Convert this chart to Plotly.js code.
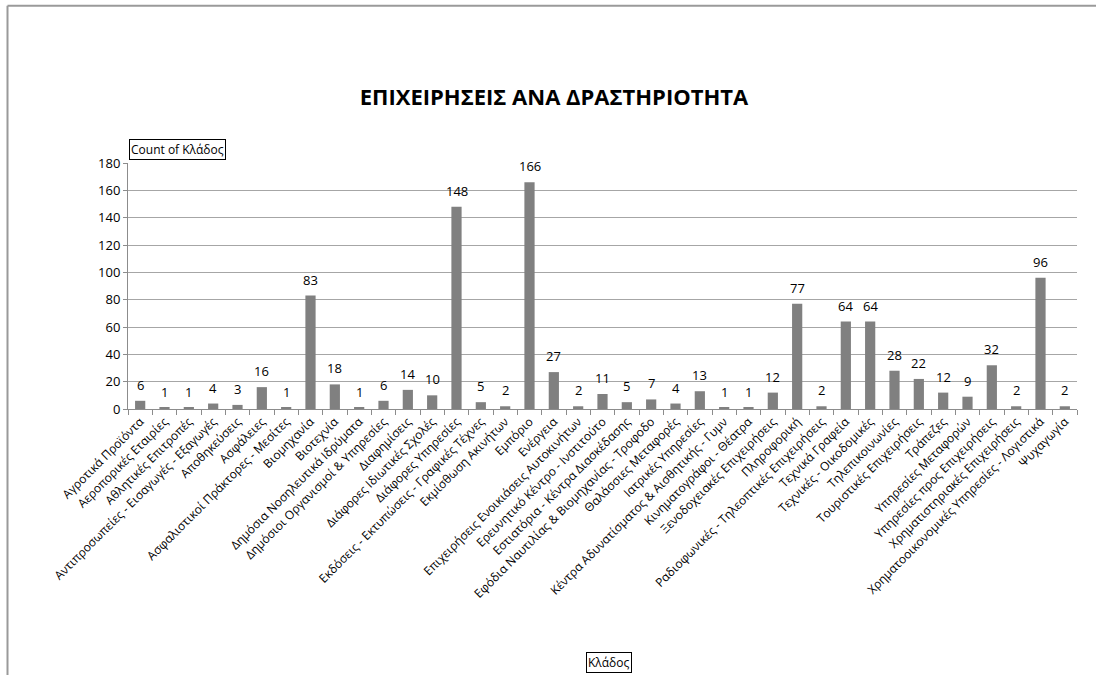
<!DOCTYPE html>
<html>
<head>
<meta charset="utf-8">
<script src="https://cdn.plot.ly/plotly-3.0.1.min.js"></script>
<style>
html,body{margin:0;padding:0;background:#fff;}
#chart{width:1096px;height:675px;}
</style>
</head>
<body>
<div id="chart"></div>
<script>
const categories = [
  "Αγροτικά Προϊόντα",
  "Αεροπορικές Εταιρίες",
  "Αθλητικές Επιτροπές",
  "Αντιπροσωπείες - Εισαγωγές - Εξαγωγές",
  "Αποθηκεύσεις",
  "Ασφάλειες",
  "Ασφαλιστικοί Πράκτορες - Μεσίτες",
  "Βιομηχανία",
  "Βιοτεχνία",
  "Δημόσια Νοσηλευτικά Ιδρύματα",
  "Δημόσιοι Οργανισμοί & Υπηρεσίες",
  "Διαφημίσεις",
  "Διάφορες Ιδιωτικές Σχολές",
  "Διάφορες Υπηρεσίες",
  "Εκδόσεις - Εκτυπώσεις - Γραφικές Τέχνες",
  "Εκμίσθωση Ακινήτων",
  "Εμπόριο",
  "Ενέργεια",
  "Επιχειρήσεις Ενοικιάσεις Αυτοκινήτων",
  "Ερευνητικό Κέντρο - Ινστιτούτο",
  "Εστιατόρια - Κέντρα Διασκέδασης",
  "Εφόδια Ναυτιλίας & Βιομηχανίας - Τροφοδο",
  "Θαλάσσιες Μεταφορές",
  "Ιατρικές Υπηρεσίες",
  "Κέντρα Αδυνατίσματος & Αισθητικής - Γυμν",
  "Κινηματογράφοι - Θέατρα",
  "Ξενοδοχειακές Επιχειρήσεις",
  "Πληροφορική",
  "Ραδιοφωνικές - Τηλεοπτικές Επιχειρήσεις",
  "Τεχνικά Γραφεία",
  "Τεχνικές - Οικοδομικές",
  "Τηλεπικοινωνίες",
  "Τουριστικές Επιχειρήσεις",
  "Τράπεζες",
  "Υπηρεσίες Μεταφορών",
  "Υπηρεσίες προς Επιχειρήσεις",
  "Χρηματιστηριακές Επιχειρήσεις",
  "Χρηματοοικονομικές Υπηρεσίες - Λογιστικά",
  "Ψυχαγωγία"
];
const counts = [6,1,1,4,3,16,1,83,18,1,6,14,10,148,5,2,166,27,2,11,5,7,4,13,1,1,12,77,2,64,64,28,22,12,9,32,2,96,2];
const yTicks = [0,20,40,60,80,100,120,140,160,180];

const FONT = "Open Sans, Noto Sans, sans-serif";
const trace = {
  type: "bar",
  x: categories,
  y: counts,
  hoverinfo: "x+y",
  marker: {color: "#808080"}
};

const L = 128, R = 1077, T = 163, B = 408.7;
const W = R - L, H = B - T;
const px = v => (v - L) / W;
const py = v => (B - v) / H;

const valueLabels = categories.map((c, i) => ({
  x: c, y: counts[i], xref: "x", yref: "y",
  text: String(counts[i]), showarrow: false,
  yanchor: "bottom", yshift: 5,
  font: {family: FONT, size: 13, color: "#000"}
}));

const layout = {
  width: 1096, height: 675,
  margin: {l: L, r: 1096 - R, t: T, b: 675 - B},
  paper_bgcolor: "#fff", plot_bgcolor: "#fff",
  showlegend: false,
  bargap: 0.58,
  title: {
    text: "ΕΠΙΧΕΙΡΗΣΕΙΣ ΑΝΑ ΔΡΑΣΤΗΡΙΟΤΗΤΑ",
    font: {family: FONT, size: 22, color: "#000", weight: "bold"},
    x: 554 / 1096, xref: "container", xanchor: "center",
    y: 1 - 97 / 675, yref: "container", yanchor: "middle"
  },
  xaxis: {
    type: "category",
    tickangle: -45,
    tickfont: {family: FONT, size: 12, color: "#000"},
    ticks: "outside", ticklen: 5, tickcolor: "#8c8c8c",
    tickson: "boundaries",
    showline: true, linecolor: "#8c8c8c", linewidth: 1,
    showgrid: false, automargin: false
  },
  yaxis: {
    range: [0, 180],
    tickvals: yTicks,
    ticktext: yTicks.map(String),
    tickfont: {family: FONT, size: 13, color: "#000"},
    ticks: "outside", ticklen: 4, tickcolor: "#8c8c8c",
    showline: true, linecolor: "#8c8c8c", linewidth: 1,
    showgrid: true, gridcolor: "#a6a6a6", gridwidth: 1,
    zeroline: false, automargin: false
  },
  annotations: valueLabels.concat([
    {
      text: "Count of Κλάδος", showarrow: false,
      xref: "paper", yref: "paper", x: px(129), y: py(149.5),
      xanchor: "left", yanchor: "middle",
      font: {family: FONT, size: 12, color: "#000"},
      bordercolor: "#000", borderwidth: 1, borderpad: 1, bgcolor: "#fff"
    },
    {
      text: "Κλάδος", showarrow: false,
      xref: "paper", yref: "paper", x: px(609), y: py(662),
      xanchor: "center", yanchor: "middle",
      font: {family: FONT, size: 12, color: "#000"},
      bordercolor: "#000", borderwidth: 1, borderpad: 1, bgcolor: "#fff"
    }
  ]),
  shapes: [
    {type: "line", xref: "paper", yref: "paper",
     x0: px(7.5), x1: px(7.5), y0: py(6), y1: py(680),
     line: {color: "#9a9a9a", width: 2}},
    {type: "line", xref: "paper", yref: "paper",
     x0: px(7.5), x1: px(1100), y0: py(6), y1: py(6),
     line: {color: "#9a9a9a", width: 2}}
  ]
};

Plotly.newPlot("chart", [trace], layout, {displayModeBar: false, responsive: false});
</script>
</body>
</html>
